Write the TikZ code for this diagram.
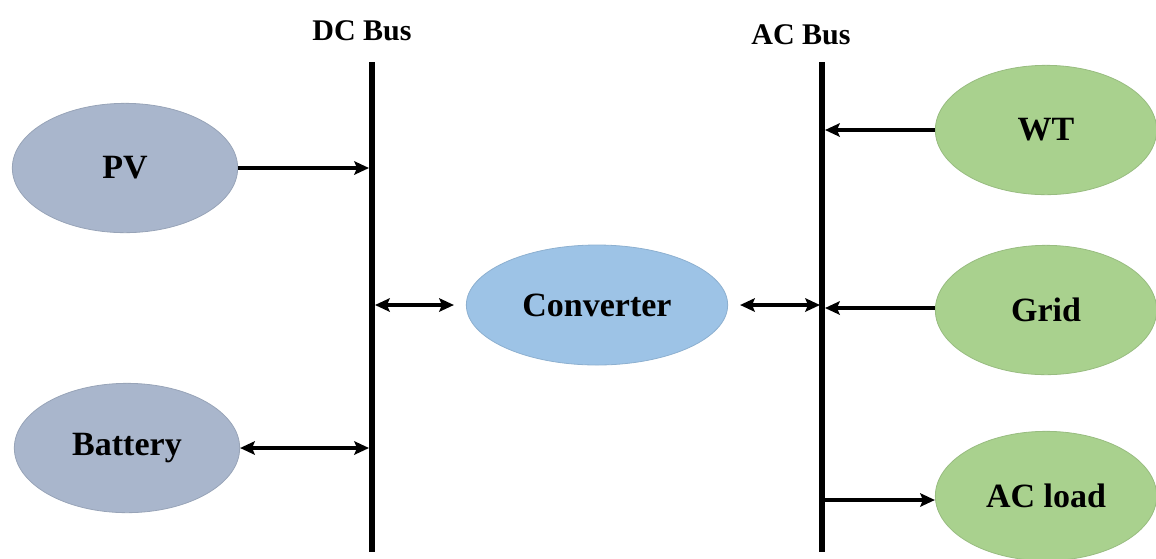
\documentclass[tikz,border=0pt]{standalone}
\usepackage{fontspec}
\setmainfont{Liberation Serif}
\usetikzlibrary{arrows.meta,shapes.geometric}
\definecolor{dcfill}{HTML}{A9B6CC}
\definecolor{dcdraw}{HTML}{98A4B8}
\definecolor{cvfill}{HTML}{9DC3E6}
\definecolor{cvdraw}{HTML}{8DB0D0}
\definecolor{acfill}{HTML}{A9D18E}
\definecolor{acdraw}{HTML}{98BC80}
\tikzset{
  blob/.style={ellipse, inner sep=0pt, minimum width=169pt, minimum height=97pt,
    font=\fontsize{25.5}{30}\selectfont\bfseries, line width=0.6pt},
  dcblob/.style={blob, fill=dcfill, draw=dcdraw},
  acblob/.style={blob, fill=acfill, draw=acdraw},
  busline/.style={line width=4.8pt},
  buslabel/.style={font=\fontsize{22.5}{26}\selectfont\bfseries},
  tip/.style={Stealth[length=11pt,width=10pt,inset=2pt]},
  conn/.style={line width=3pt, arrows={-Stealth[length=11pt,width=10pt,inset=2pt]}},
  bconn/.style={line width=3pt, arrows={Stealth[length=11pt,width=10pt,inset=2pt]-Stealth[length=11pt,width=10pt,inset=2pt]}}
}
\begin{document}
\begin{tikzpicture}[x=0.75pt,y=-0.75pt]
\useasboundingbox (0,0) rectangle (1156,558);
% buses
\coordinate (dctop) at (372,62);
\coordinate (dcbot) at (372,552);
\coordinate (actop) at (822,62);
\coordinate (acbot) at (822,552);
\draw[busline] (dctop) -- (dcbot);
\draw[busline] (actop) -- (acbot);
\node[buslabel] (dclabel) at (362,31) {DC Bus};
\node[buslabel] (aclabel) at (801,35) {AC Bus};
% nodes
\node[dcblob] (pv) at (125,168) {PV};
\node[dcblob] (bat) at (127,448) {Battery};
\node[blob, fill=cvfill, draw=cvdraw, minimum width=196pt, minimum height=90pt] (conv) at (597,305) {Converter};
\node[acblob, minimum width=166pt] (wt) at (1046,130) {WT};
\node[acblob, minimum width=166pt] (grid) at (1046,310) {Grid};
\node[acblob, minimum width=166pt] (load) at (1046,496) {AC load};
% bus attachment points
\coordinate (dcpv) at (369,168);
\coordinate (dcbat) at (369,448);
\coordinate (dcconv) at (375,305);
\coordinate (acconv) at (820,305);
\coordinate (acwt) at (825,130);
\coordinate (acgrid) at (825,308);
\coordinate (acload) at (825,500);
% connectors
\draw[conn] (pv) -- (dcpv);
\draw[bconn] (bat) -- (dcbat);
\draw[bconn, shorten >=9pt] (dcconv) -- (conv);
\draw[bconn, shorten <=9pt] (conv) -- (acconv);
\draw[conn] (wt.west) -- (acwt);
\draw[conn] (grid.west |- acgrid) -- (acgrid);
\draw[conn] (acload) -- (load.west |- acload);
\end{tikzpicture}
\end{document}
